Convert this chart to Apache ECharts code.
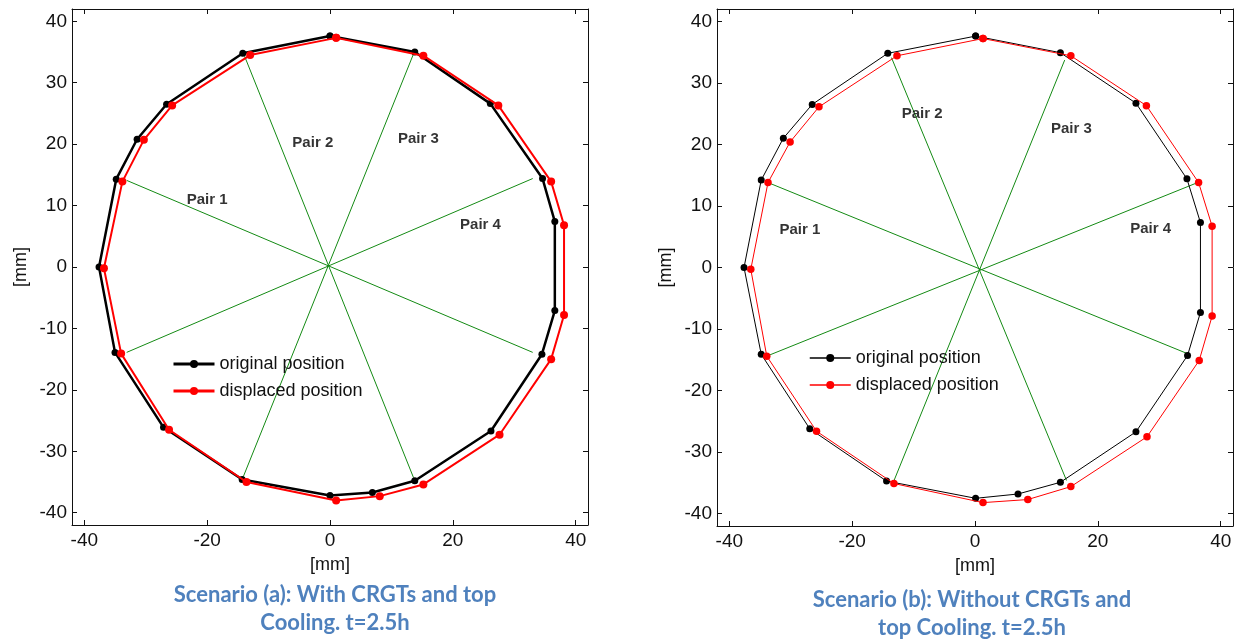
<!DOCTYPE html>
<html><head><meta charset="utf-8">
<script src="https://cdn.jsdelivr.net/npm/echarts@6/dist/echarts.min.js"></script>
<style>html,body{margin:0;padding:0;background:#fff}#c{width:1237px;height:641px}</style>
</head><body><div id="c"></div>
<script>
// ---- data (mm) ----
const xTicks = [-40, -20, 0, 20, 40];
const yTicks = [-40, -30, -20, -10, 0, 10, 20, 30, 40];
const pairNames = ['Pair 1', 'Pair 2', 'Pair 3', 'Pair 4'];

const origA = [[0,37.6],[13.8,35.0],[26.1,26.6],[34.6,14.4],[36.6,7.4],[36.6,-7.1],[34.5,-14.2],[26.2,-26.7],[13.8,-34.8],[6.9,-36.7],[0,-37.2],[-14.3,-34.6],[-27.1,-26.1],[-35.0,-13.9],[-37.6,0],[-34.8,14.3],[-31.4,20.8],[-26.6,26.5],[-14.2,34.8]];
const dispA = [[1.0,37.3],[15.2,34.4],[27.4,26.3],[36.0,13.9],[38.1,6.8],[38.1,-7.8],[36.0,-15.0],[27.6,-27.3],[15.2,-35.4],[8.1,-37.3],[1.0,-38.0],[-13.6,-35.0],[-26.2,-26.5],[-34.0,-14.1],[-36.8,-0.2],[-33.8,13.9],[-30.3,20.7],[-25.7,26.3],[-13.0,34.5]];
const pairLinesA = [[[-33.1,14.1],[33.0,-13.9]],[[-33.1,-13.9],[33.0,14.4]],[[-13.9,34.3],[13.6,-34.3]],[[13.6,34.7],[-14.1,-34.1]]];
const pairLabelPosA = [[-20.0,10.9],[-2.8,20.2],[14.4,20.9],[24.5,6.8]];

const origB = [[0.1,37.6],[13.9,34.9],[26.2,26.7],[34.5,14.4],[36.7,7.3],[36.7,-7.3],[34.6,-14.3],[26.2,-26.7],[13.9,-34.9],[7.0,-36.8],[0.1,-37.5],[-14.4,-34.7],[-26.9,-26.2],[-34.8,-14.1],[-37.6,0],[-34.8,14.2],[-31.2,21.0],[-26.5,26.5],[-14.2,34.8]];
const dispB = [[1.3,37.2],[15.6,34.4],[27.9,26.3],[36.4,13.8],[38.6,6.7],[38.6,-7.9],[36.5,-15.1],[28.0,-27.5],[15.6,-35.6],[8.6,-37.7],[1.3,-38.2],[-13.2,-35.1],[-25.8,-26.6],[-33.9,-14.4],[-36.5,-0.3],[-33.7,13.8],[-30.1,20.4],[-25.4,26.1],[-12.7,34.4]];
const pairLinesB = [[[-33.7,13.8],[34.6,-14.0]],[[-33.9,-14.4],[36.5,13.9]],[[-13.6,34.1],[14.9,-34.6]],[[14.6,33.7],[-13.3,-34.9]]];
const pairLabelPosB = [[-28.5,6.1],[-8.6,24.9],[15.7,22.6],[28.6,6.3]];

const titleA = ['Scenario (a): With CRGTs and top', 'Cooling. t=2.5h'];
const titleB = ['Scenario (b): Without CRGTs and', 'top Cooling. t=2.5h'];

// ---- build ----
const FONT = '"Liberation Sans", Arial, sans-serif';
const close = a => a.concat([a[0]]);
const grids = [
  {left: 72, top: 9, width: 516, height: 516},
  {left: 717, top: 9, width: 516, height: 517}
];
const xAxes = [], yAxes = [];
grids.forEach((g, i) => {
  const common = {type: 'value', min: -42, max: 42, gridIndex: i, splitLine: {show: false},
    axisLine: {show: true, onZero: false, lineStyle: {color: '#111', width: 1}}};
  xAxes.push(Object.assign({}, common, {position: 'bottom',
    axisTick: {show: true, inside: true, length: 5, customValues: xTicks, lineStyle: {color: '#111'}},
    axisLabel: {customValues: xTicks, fontFamily: FONT, fontSize: 19, color: '#111', margin: 6},
    name: '[mm]', nameLocation: 'middle', nameGap: 31,
    nameTextStyle: {fontFamily: FONT, fontSize: 18, color: '#111'}}));
  xAxes.push(Object.assign({}, common, {position: 'top',
    axisTick: {show: true, inside: true, length: 5, customValues: xTicks, lineStyle: {color: '#111'}},
    axisLabel: {show: false}}));
  yAxes.push(Object.assign({}, common, {position: 'left',
    axisTick: {show: true, inside: true, length: 5, customValues: yTicks, lineStyle: {color: '#111'}},
    axisLabel: {customValues: yTicks, fontFamily: FONT, fontSize: 19, color: '#111', margin: 5},
    name: '[mm]', nameLocation: 'middle', nameGap: 42, nameRotate: 90,
    nameTextStyle: {fontFamily: FONT, fontSize: 18, color: '#111'}}));
  yAxes.push(Object.assign({}, common, {position: 'right',
    axisTick: {show: true, inside: true, length: 5, customValues: yTicks, lineStyle: {color: '#111'}},
    axisLabel: {show: false}}));
});

const series = [];
function addChart(i, orig, disp, pairLines, labelPos, lw, symO, symD) {
  const ax = {xAxisIndex: i * 2, yAxisIndex: i * 2};
  pairLines.forEach(seg => series.push(Object.assign({type: 'line', name: 'pair' + i, data: seg,
    symbol: 'none', silent: true, lineStyle: {color: '#138a13', width: 1}, z: 1}, ax)));
  series.push(Object.assign({type: 'line', name: 'original position', data: close(orig),
    symbol: 'circle', symbolSize: symO, itemStyle: {color: '#000'},
    lineStyle: {color: '#000', width: lw[0]}, z: 2}, ax));
  series.push(Object.assign({type: 'line', name: 'displaced position', data: close(disp),
    symbol: 'circle', symbolSize: symD, itemStyle: {color: '#ff0000'},
    lineStyle: {color: '#ff0000', width: lw[1]}, z: 3}, ax));
  series.push(Object.assign({type: 'scatter', name: 'labels' + i, symbolSize: 0, silent: true,
    data: labelPos.map((p, k) => ({name: pairNames[k], value: p})),
    label: {show: true, position: 'inside', formatter: '{b}', fontFamily: FONT, fontWeight: 'bold',
      fontSize: 15, color: '#000'}, z: 4}, ax));
}
addChart(0, origA, dispA, pairLinesA, pairLabelPosA, [2.5, 2], 7, 8);
addChart(1, origB, dispB, pairLinesB, pairLabelPosB, [1, 1], 7, 7.5);

const legendCommon = {orient: 'vertical', padding: 0, itemWidth: 41, itemHeight: 10, itemGap: 9,
  data: ['original position', 'displaced position'],
  textStyle: {fontFamily: FONT, fontSize: 18, color: '#111'}};
const legends = [
  Object.assign({}, legendCommon, {left: 172, top: 355, lineStyle: {width: 3}}),
  Object.assign({}, legendCommon, {left: 809, top: 349, lineStyle: {width: 1.5}})
];

const TFONT = 'bold 22px Lato, "Open Sans", sans-serif';
const graphic = [
  {type: 'text', x: 335, y: 595, style: {text: titleA[0], font: TFONT, fill: '#4f81bd', textAlign: 'center', textVerticalAlign: 'middle'}},
  {type: 'text', x: 335, y: 623, style: {text: titleA[1], font: TFONT, fill: '#4f81bd', textAlign: 'center', textVerticalAlign: 'middle'}},
  {type: 'text', x: 972, y: 600, style: {text: titleB[0], font: TFONT, fill: '#4f81bd', textAlign: 'center', textVerticalAlign: 'middle'}},
  {type: 'text', x: 972, y: 628, style: {text: titleB[1], font: TFONT, fill: '#4f81bd', textAlign: 'center', textVerticalAlign: 'middle'}}
];

const chart = echarts.init(document.getElementById('c'));
chart.setOption({animation: false, grid: grids, xAxis: xAxes, yAxis: yAxes, series, legend: legends, graphic});
</script></body></html>
